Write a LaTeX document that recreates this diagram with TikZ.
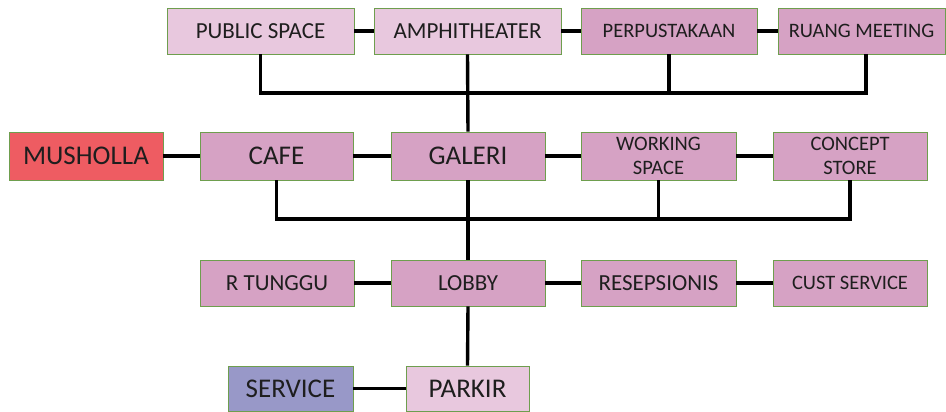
\documentclass[tikz,border=0pt]{standalone}
\usepackage{fontspec}
\setmainfont{Carlito}
\definecolor{lpink}{RGB}{232,200,222}
\definecolor{dpink}{RGB}{214,162,196}
\definecolor{mred}{RGB}{238,92,98}
\definecolor{svc}{RGB}{152,152,200}
\definecolor{bgreen}{RGB}{110,158,78}
\definecolor{txt}{RGB}{30,30,30}
\tikzset{
  room/.style={draw=bgreen, line width=0.9pt, inner sep=0pt, align=center, text=txt, font=\fontsize{23}{23}\selectfont},
  big/.style={font=\fontsize{27}{27}\selectfont},
  small/.style={font=\fontsize{20.5}{24.5}\selectfont},
  link/.style={line width=3.4pt, black},
}
\begin{document}
\begin{tikzpicture}[x=1pt,y=1pt]
\useasboundingbox (0,0) rectangle (946,412);
% top row (centre y = 412-31 = 381)
\node[room, fill=lpink, minimum width=187, minimum height=46] (PS) at (260.5,381) {PUBLIC SPACE};
\node[room, fill=lpink, minimum width=187, minimum height=46] (AM) at (467.5,381) {AMPHITHEATER};
\node[room, small, fill=dpink, minimum width=176, minimum height=46] (PE) at (669,381) {PERPUSTAKAAN};
\node[room, small, fill=dpink, minimum width=167, minimum height=46] (RM) at (861.5,381) {RUANG MEETING};
% second row (centre y = 412-156 = 256)
\node[room, big, fill=mred, minimum width=154, minimum height=48] (MU) at (86,256) {MUSHOLLA};
\node[room, big, fill=dpink, minimum width=153, minimum height=48] (CA) at (276.5,256) {CAFE};
\node[room, big, fill=dpink, minimum width=154, minimum height=48] (GA) at (468,256) {GALERI};
\node[room, small, fill=dpink, minimum width=155, minimum height=48] (WS) at (658.5,256) {WORKING\\SPACE};
\node[room, small, fill=dpink, minimum width=154, minimum height=48] (CS) at (850,256) {CONCEPT\\STORE};
% third row (centre y = 412-283 = 129)
\node[room, fill=dpink, minimum width=154, minimum height=46] (RT) at (277,129) {R TUNGGU};
\node[room, fill=dpink, minimum width=154, minimum height=46] (LO) at (468,129) {LOBBY};
\node[room, fill=dpink, minimum width=155, minimum height=46] (RE) at (658.5,129) {RESEPSIONIS};
\node[room, small, fill=dpink, minimum width=154, minimum height=46] (CU) at (850,129) {CUST SERVICE};
% fourth row (centre y = 412-388.5 = 23.5)
\node[room, big, fill=svc, minimum width=125, minimum height=45] (SE) at (290.5,23.5) {SERVICE};
\node[room, big, fill=lpink, minimum width=123, minimum height=45] (PA) at (467.5,23.5) {PARKIR};
% bus coordinates
\coordinate (b1) at (0,319);
\coordinate (b2) at (0,193);
% horizontal links
\draw[link] (PS) -- (AM);
\draw[link] (AM) -- (PE);
\draw[link] (PE) -- (RM);
\draw[link] (MU) -- (CA);
\draw[link] (CA) -- (GA);
\draw[link] (GA) -- (WS);
\draw[link] (WS) -- (CS);
\draw[link] (RT) -- (LO);
\draw[link] (LO) -- (RE);
\draw[link] (RE) -- (CU);
\draw[link] (SE) -- (PA);
% vertical spine
\draw[link] (AM.south) -- (GA.north);
\draw[link] (GA.south) -- (LO.north);
\draw[link] (LO.south) -- (PA.north);
% top bus
\draw[link, line join=miter] (PS.south) -- (PS.south |- b1) -- ([xshift=4.5pt]RM.south |- b1) -- ([xshift=4.5pt]RM.south);
\draw[link] (PE.south) -- (PE.south |- b1);
% second bus
\draw[link, line join=miter] (CA.south) -- (CA.south |- b2) -- (CS.south |- b2) -- (CS.south);
\draw[link] (WS.south) -- (WS.south |- b2);
\end{tikzpicture}
\end{document}
